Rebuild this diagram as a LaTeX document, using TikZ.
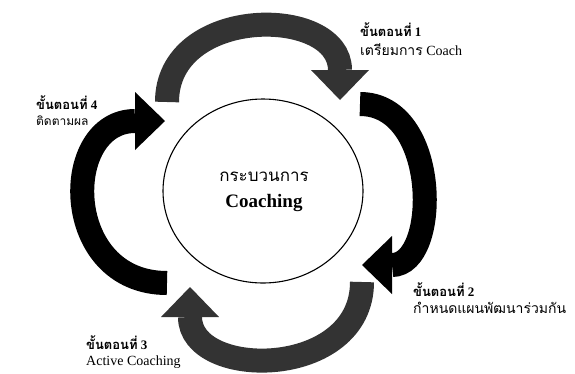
\documentclass[tikz,border=0pt]{standalone}
\usepackage{fontspec}
\setmainfont{Liberation Serif}
\newfontfamily\thai[Script=Thai]{Loma}
\usetikzlibrary{arrows.meta}
\tikzset{
  band/.style={line width=24pt, -{Triangle[width=58pt,length=30pt,line width=0pt]}},
  blackband/.style={band, draw=black},
  grayband/.style={band, draw=black!80},
  lbl/.style={anchor=west, inner sep=0pt, font=\fontsize{14}{16}\selectfont},
  lblb/.style={anchor=west, inner sep=0pt, font=\fontsize{13}{15}\selectfont\bfseries},
  ctr/.style={inner sep=0pt, font=\fontsize{17}{19}\selectfont}
}
\begin{document}
\begin{tikzpicture}[x=1pt,y=-1pt]
\useasboundingbox (0,0) rectangle (575,373);
% centre circle
\draw[line width=1.1pt] (263,191) ellipse [x radius=100, y radius=92];
\node[ctr] (c1) at (264,177) {\thai กระบวนการ};
\node[ctr, font=\fontsize{19}{21}\selectfont\bfseries] (c2) at (264,203) {Coaching};
% arrows
\draw[grayband] (167,102) .. controls (167,5) and (340,5) .. (340,100);
\draw[blackband] (360,104) .. controls (440,104) and (440,265) .. (362,265);
\draw[grayband] (362,282) .. controls (362,380) and (190,380) .. (190,287);
\draw[blackband] (167,283) .. controls (60,283) and (60,121) .. (165,121);
% labels
\node[lblb] (s1a) at (360,30) {{\thai ขั้นตอนที่} 1};
\node[lbl] (s1b) at (360,50) {{\thai เตรียมการ} Coach};
\node[lblb] (s2a) at (413,290) {{\thai ขั้นตอนที่} 2};
\node[lbl] (s2b) at (413,308) {\thai กำหนดแผนพัฒนาร่วมกัน};
\node[lblb] (s3a) at (86,343) {{\thai ขั้นตอนที่} 3};
\node[lbl] (s3b) at (86,362) {Active Coaching};
\node[lblb] (s4a) at (36,103) {{\thai ขั้นตอนที่} 4};
\node[lbl, font=\fontsize{12}{14}\selectfont] (s4b) at (36,121) {\thai ติดตามผล};
\end{tikzpicture}
\end{document}
